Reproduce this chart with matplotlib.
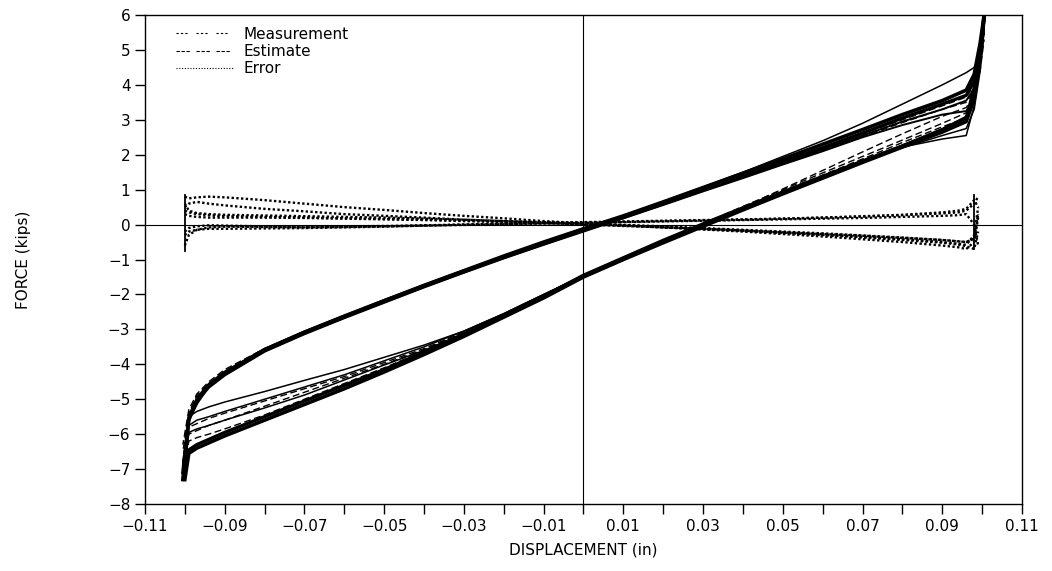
import matplotlib
matplotlib.use("Agg")
import matplotlib.pyplot as plt
from matplotlib.lines import Line2D

# ---------------- data ----------------
LOAD_X = [-0.1, -0.099, -0.097, -0.094, -0.09, -0.08, -0.07, -0.06, -0.05, -0.04,
          -0.03, -0.02, -0.01, 0.0, 0.01, 0.02, 0.03, 0.04, 0.05, 0.06, 0.07,
          0.08, 0.09, 0.096, 0.098, 0.0995, 0.1005]
UNLOAD_X = [0.1005, 0.0995, 0.098, 0.096, 0.09, 0.08, 0.07, 0.06, 0.05, 0.04,
            0.03, 0.02, 0.01, 0.0, -0.01, -0.02, -0.03, -0.04, -0.05, -0.06,
            -0.07, -0.08, -0.09, -0.094, -0.097, -0.099, -0.1005]

meas_load_1 = [-7.3, -6.55, -6.4, -6.25, -6.05, -5.6, -5.15, -4.7, -4.22, -3.72, -3.2, -2.65, -2.1, -1.5,
               -1.0, -0.52, -0.05, 0.42, 0.88, 1.33, 1.78, 2.22, 2.65, 2.95, 3.6, 4.8, 6.0]
meas_load_2 = [-7.1, -6.45, -6.3, -6.15, -5.95, -5.5, -5.05, -4.6, -4.15, -3.65, -3.13, -2.6, -2.05, -1.45,
               -0.95, -0.45, 0.02, 0.48, 0.93, 1.38, 1.82, 2.25, 2.7, 3.05, 3.9, 5.0, 5.9]
meas_load_3 = [-6.8, -5.5, -5.35, -5.22, -5.08, -4.78, -4.46, -4.15, -3.8, -3.45, -3.05, -2.55, -2.0, -1.45,
               -0.95, -0.45, 0.0, 0.45, 0.9, 1.35, 1.8, 2.2, 2.55, 2.75, 3.3, 4.4, 5.6]
meas_load_4 = [-6.9, -5.75, -5.6, -5.5, -5.35, -5.0, -4.65, -4.3, -3.9, -3.5, -3.05, -2.55, -2.0, -1.48,
               -0.98, -0.5, -0.02, 0.45, 0.92, 1.38, 1.83, 2.28, 2.75, 3.1, 3.8, 4.9, 5.8]
meas_load_5 = [-7.0, -5.95, -5.85, -5.75, -5.6, -5.25, -4.88, -4.45, -4.02, -3.6, -3.12, -2.6, -2.05, -1.5,
               -1.0, -0.5, -0.03, 0.43, 0.9, 1.35, 1.8, 2.22, 2.45, 2.55, 3.4, 4.6, 5.7]

meas_unload_1 = [6.0, 5.2, 4.3, 3.85, 3.55, 3.15, 2.72, 2.3, 1.88, 1.47, 1.06, 0.65, 0.25, -0.12,
                 -0.5, -0.9, -1.32, -1.74, -2.18, -2.62, -3.08, -3.58, -4.25, -4.6, -5.1, -5.55, -7.3]
meas_unload_2 = [5.9, 5.0, 4.1, 3.7, 3.45, 3.05, 2.62, 2.2, 1.8, 1.4, 1.0, 0.6, 0.2, -0.18,
                 -0.56, -0.95, -1.36, -1.78, -2.22, -2.66, -3.12, -3.62, -4.3, -4.65, -5.05, -5.6, -7.1]
meas_unload_3 = [5.6, 4.9, 4.5, 4.35, 4.0, 3.45, 2.9, 2.4, 1.95, 1.5, 1.08, 0.66, 0.26, -0.1,
                 -0.5, -0.9, -1.3, -1.72, -2.15, -2.6, -3.05, -3.55, -4.2, -4.55, -4.95, -5.45, -6.8]
meas_unload_4 = [5.8, 4.9, 3.9, 3.55, 3.3, 2.95, 2.55, 2.15, 1.75, 1.36, 0.98, 0.58, 0.2, -0.16,
                 -0.55, -0.95, -1.35, -1.77, -2.2, -2.65, -3.1, -3.6, -4.27, -4.62, -5.0, -5.55, -6.9]
meas_unload_5 = [5.7, 4.8, 3.6, 3.25, 3.15, 2.85, 2.5, 2.1, 1.72, 1.33, 0.95, 0.56, 0.18, -0.18,
                 -0.57, -0.96, -1.37, -1.79, -2.22, -2.67, -3.12, -3.62, -4.3, -4.65, -5.05, -5.6, -7.0]

est_load_1 = [-6.9, -6.2, -6.1, -6.0, -5.85, -5.45, -5.0, -4.55, -4.1, -3.62, -3.12, -2.6, -2.05, -1.5,
              -1.0, -0.5, 0.0, 0.48, 0.96, 1.42, 1.88, 2.35, 2.8, 3.05, 3.5, 4.6, 5.6]
est_load_2 = [-6.6, -5.8, -5.7, -5.55, -5.4, -5.05, -4.7, -4.35, -3.95, -3.55, -3.08, -2.58, -2.05, -1.5,
              -1.0, -0.48, 0.03, 0.52, 1.0, 1.48, 1.95, 2.42, 2.9, 3.2, 3.6, 4.5, 5.5]
est_load_3 = [-6.7, -6.0, -5.9, -5.75, -5.6, -5.2, -4.8, -4.4, -4.0, -3.58, -3.1, -2.6, -2.06, -1.52,
              -1.02, -0.52, -0.02, 0.5, 1.02, 1.55, 2.08, 2.6, 3.1, 3.35, 3.7, 4.4, 5.3]
est_unload_1 = [5.6, 4.8, 4.0, 3.65, 3.4, 3.0, 2.6, 2.2, 1.8, 1.4, 1.0, 0.6, 0.2, -0.18,
                -0.56, -0.96, -1.36, -1.78, -2.2, -2.65, -3.1, -3.6, -4.2, -4.55, -4.9, -5.4, -6.5]
est_unload_2 = [5.5, 4.6, 3.8, 3.5, 3.3, 2.92, 2.52, 2.12, 1.73, 1.35, 0.97, 0.58, 0.2, -0.17,
                -0.55, -0.95, -1.35, -1.76, -2.18, -2.62, -3.07, -3.55, -4.15, -4.5, -4.85, -5.3, -6.3]

ERR_X = [-0.1, -0.099, -0.097, -0.094, -0.09, -0.08, -0.07, -0.06, -0.05, -0.04, -0.03, -0.02,
         -0.01, 0.0, 0.01, 0.02, 0.03, 0.04, 0.05, 0.06, 0.07, 0.08, 0.09, 0.094, 0.096, 0.098, 0.099]
err_1 = [0.6, 0.4, 0.33, 0.3, 0.28, 0.26, 0.24, 0.22, 0.2, 0.17, 0.14, 0.1, 0.07, 0.03,
         -0.02, -0.07, -0.12, -0.17, -0.23, -0.29, -0.35, -0.42, -0.5, -0.55, -0.58, -0.3, 0.5]
err_2 = [0.3, 0.25, 0.22, 0.2, 0.2, 0.2, 0.19, 0.17, 0.15, 0.13, 0.1, 0.07, 0.04, 0.01,
         -0.03, -0.08, -0.13, -0.18, -0.24, -0.3, -0.37, -0.44, -0.52, -0.57, -0.62, -0.7, -0.2]
err_3 = [-0.3, -0.2, -0.15, -0.12, -0.12, -0.11, -0.1, -0.08, -0.06, -0.03, 0.0, 0.03, 0.05, 0.07,
         0.09, 0.11, 0.13, 0.15, 0.17, 0.2, 0.23, 0.27, 0.32, 0.35, 0.4, 0.6, 0.8]
err_4 = [-0.6, -0.3, -0.15, -0.08, -0.06, -0.07, -0.08, -0.07, -0.05, -0.03, -0.01, 0.01, 0.03, 0.05,
         0.07, 0.09, 0.11, 0.13, 0.15, 0.17, 0.19, 0.22, 0.25, 0.27, 0.3, 0.0, -0.6]
err_5 = [0.8, 0.75, 0.78, 0.8, 0.78, 0.7, 0.6, 0.5, 0.42, 0.33, 0.25, 0.18, 0.1, 0.04,
         -0.02, -0.08, -0.14, -0.2, -0.27, -0.34, -0.42, -0.5, -0.6, -0.65, -0.7, -0.5, 0.2]
err_6 = [0.5, 0.6, 0.65, 0.6, 0.55, 0.45, 0.38, 0.3, 0.25, 0.2, 0.14, 0.1, 0.05, 0.0,
         -0.04, -0.08, -0.12, -0.17, -0.22, -0.27, -0.32, -0.38, -0.44, -0.48, -0.5, -0.4, 0.3]
err_7 = [0.4, 0.35, 0.3, 0.27, 0.24, 0.22, 0.2, 0.18, 0.16, 0.14, 0.12, 0.09, 0.06, 0.03,
         -0.01, -0.05, -0.1, -0.15, -0.2, -0.25, -0.31, -0.37, -0.44, -0.48, -0.5, -0.4, 0.3]
err_8 = [-0.2, -0.1, -0.05, -0.02, -0.03, -0.05, -0.06, -0.05, -0.04, -0.02, 0.0, 0.02, 0.04, 0.06,
         0.08, 0.1, 0.12, 0.14, 0.17, 0.2, 0.24, 0.28, 0.35, 0.4, 0.45, 0.7, 0.5]

spike_left_x, spike_left_y = [-0.1, -0.1], [-0.75, 0.85]
spike_right_x, spike_right_y = [0.098, 0.098], [-0.7, 0.85]

x_ticks = [-0.11, -0.10, -0.09, -0.08, -0.07, -0.06, -0.05, -0.04, -0.03, -0.02, -0.01,
           0.0, 0.01, 0.02, 0.03, 0.04, 0.05, 0.06, 0.07, 0.08, 0.09, 0.10, 0.11]
x_ticklabels = ["\u22120.11", "", "\u22120.09", "", "\u22120.07", "", "\u22120.05", "", "\u22120.03", "",
                "\u22120.01", "", "0.01", "", "0.03", "", "0.05", "", "0.07", "", "0.09", "", "0.11"]
y_ticks = [-8, -7, -6, -5, -4, -3, -2, -1, 0, 1, 2, 3, 4, 5, 6]
y_ticklabels = ["\u22128", "\u22127", "\u22126", "\u22125", "\u22124", "\u22123", "\u22122", "\u22121",
                "0", "1", "2", "3", "4", "5", "6"]
legend_labels = ["Measurement", "Estimate", "Error"]

# ---------------- figure ----------------
plt.rcParams['font.family'] = ['DejaVu Sans']
fig = plt.figure(figsize=(10.52, 5.71), dpi=100)
ax = fig.add_axes([0.1378, 0.1173, 0.8337, 0.8564])

ax.axhline(0, color='black', lw=0.8, zorder=1)
ax.axvline(0, color='black', lw=0.8, zorder=1)

meas_style = dict(color='black', solid_joinstyle='round', zorder=3)
for yl, w in [(meas_load_1, 2.6), (meas_load_2, 2.4), (meas_load_3, 1.1), (meas_load_4, 1.1), (meas_load_5, 1.1)]:
    ax.plot(LOAD_X, yl, lw=w, **meas_style)
for yu, w in [(meas_unload_1, 2.6), (meas_unload_2, 2.4), (meas_unload_3, 1.1), (meas_unload_4, 1.4), (meas_unload_5, 1.4)]:
    ax.plot(UNLOAD_X, yu, lw=w, **meas_style)

est_style = dict(color='black', lw=1.0, ls=(0, (5, 2.5)), zorder=3)
for ye in [est_load_1, est_load_2, est_load_3]:
    ax.plot(LOAD_X, ye, **est_style)
for ye in [est_unload_1, est_unload_2]:
    ax.plot(UNLOAD_X, ye, **est_style)

err_style = dict(color='black', lw=1.7, ls=(0, (1, 1)), zorder=2)
for ye in [err_1, err_2, err_3, err_4, err_5, err_6, err_7, err_8]:
    ax.plot(ERR_X, ye, **err_style)
ax.plot(spike_left_x, spike_left_y, color='black', lw=1.3)
ax.plot(spike_right_x, spike_right_y, color='black', lw=1.3)

ax.set_xlim(-0.11, 0.11)
ax.set_ylim(-8, 6)
ax.set_xticks(x_ticks)
ax.set_xticklabels(x_ticklabels)
ax.set_yticks(y_ticks)
ax.set_yticklabels(y_ticklabels)
ax.tick_params(axis='both', direction='out', length=7, width=1.0, labelsize=11, color='black')
ax.tick_params(axis='x', pad=4)
for s in ax.spines.values():
    s.set_linewidth(1.0)

ax.set_xlabel("DISPLACEMENT (in)", fontsize=11, labelpad=6)
ax.set_ylabel("FORCE (kips)", fontsize=11, labelpad=55)

handles = [Line2D([0], [0], color='black', lw=0.8, ls=(0, (2, 2, 2, 2, 2, 8))),
           Line2D([0], [0], color='black', lw=0.8, ls=(0, (3, 1.5, 3, 1.5, 3, 6))),
           Line2D([0], [0], color='black', lw=0.8, ls=(0, (1, 1.5)))]
ax.legend(handles, legend_labels, loc='upper left', bbox_to_anchor=(0.025, 0.995), frameon=False,
          fontsize=11, handlelength=3.8, handletextpad=0.6, labelspacing=0.15, borderaxespad=0.2)

fig.savefig("out.png", dpi=100)
